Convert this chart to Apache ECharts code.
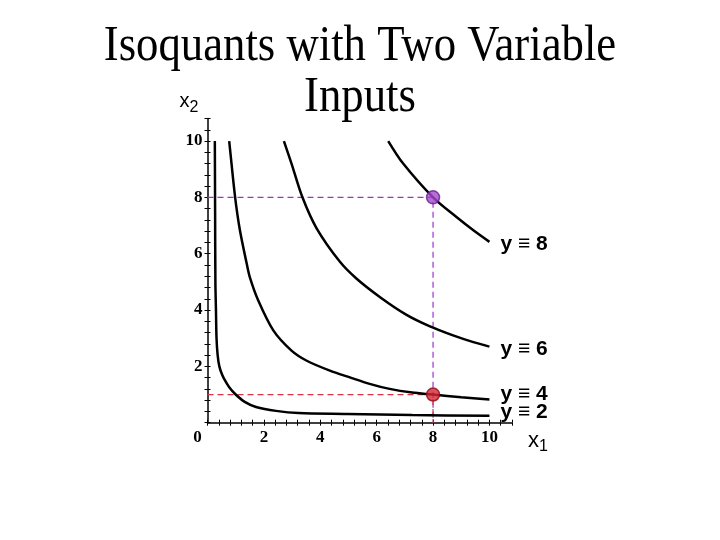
<!DOCTYPE html>
<html>
<head>
<meta charset="utf-8">
<script src="https://cdn.jsdelivr.net/npm/echarts@6/dist/echarts.min.js"></script>
<style>html,body{margin:0;padding:0;background:#fff}#c{width:720px;height:540px}</style>
</head>
<body>
<div id="c"></div>
<script>
// ---- data ----
const titleLines = ['Isoquants with Two Variable', 'Inputs'];
const xTicks = [0, 2, 4, 6, 8, 10];
const yTicks = [0, 2, 4, 6, 8, 10];

const y2X = [0.26, 0.27, 0.28, 0.30, 0.32, 0.36, 0.42, 0.52, 0.62, 0.77, 1.0, 1.32, 1.72, 2.43, 3.23, 4.95, 7.26, 10];
const y2Y = [10, 7.5, 5, 4, 3, 2.4, 2.0, 1.7, 1.5, 1.26, 1.0, 0.74, 0.56, 0.42, 0.34, 0.31, 0.27, 0.25];

const y4X = [0.77, 0.80, 0.98, 1.15, 1.39, 1.50, 1.80, 2.34, 2.98, 3.52, 4.34, 5.05, 5.75, 6.46, 7.26, 8, 9, 10];
const y4Y = [10, 9.7, 8, 6.83, 5.65, 5.17, 4.34, 3.27, 2.56, 2.2, 1.85, 1.61, 1.38, 1.2, 1.07, 1.0, 0.9, 0.82];

const y6X = [2.71, 2.98, 3.36, 3.87, 4.69, 5.29, 6.17, 7.06, 7.89, 8.71, 9.43, 10];
const y6Y = [10, 9.2, 8.02, 6.9, 5.72, 5.11, 4.42, 3.83, 3.42, 3.1, 2.86, 2.7];

const y8X = [6.41, 6.94, 8, 8.83, 9.43, 10];
const y8Y = [10, 9.2, 8, 7.3, 6.83, 6.42];

const curveLabels = ['y \u2261 2', 'y \u2261 4', 'y \u2261 6', 'y \u2261 8'];
const pointA = [8, 8];   // on y = 8
const pointB = [8, 1];   // on y = 4
const xName = 'x';
const xSub = '1';
const yName = 'x';
const ySub = '2';

// ---- build ----
const zip = (xs, ys) => xs.map((v, i) => [v, ys[i]]);
const chart = echarts.init(document.getElementById('c'), null, {renderer: 'canvas'});

const AX_MAX = 10.8;
const labelFont = 'Liberation Serif';
const sans = 'Liberation Sans, DejaVu Sans, Arial, sans-serif';

function tickAxis(inside, extra) {
  return Object.assign({
    type: 'value', min: 0, max: AX_MAX, interval: 0.4,
    axisLine: {show: false, onZero: false},
    axisTick: {show: true, inside: inside, length: 3, lineStyle: {color: '#000', width: 1}},
    axisLabel: {show: false},
    splitLine: {show: false}
  }, extra);
}

function curve(xs, ys, label, dy) {
  return {
    type: 'line', data: zip(xs, ys), symbol: 'none', smooth: 0.3,
    lineStyle: {color: '#000', width: 2.5},
    endLabel: {
      show: true, formatter: label, distance: 11, offset: [0, dy],
      fontFamily: sans, fontSize: 21, fontWeight: 'bold', color: '#000',
      align: 'left', verticalAlign: 'middle'
    },
    z: 3
  };
}

const option = {
  animation: false,
  grid: {left: 207.5, right: 208, top: 118.5, bottom: 117.3, containLabel: false},
  xAxis: [
    {
      type: 'value', min: 0, max: AX_MAX, interval: 2, position: 'bottom',
      axisLine: {show: true, onZero: false, lineStyle: {color: '#000', width: 1.5}},
      axisTick: {show: false},
      splitLine: {show: false},
      axisLabel: {
        margin: 6, showMaxLabel: false,
        fontFamily: labelFont, fontWeight: 'bold', fontSize: 17, color: '#000',
        formatter: v => (xTicks.indexOf(v) === 0 ? '{z|' + v + '}' : (xTicks.indexOf(v) >= 0 ? String(v) : '')),
        rich: {z: {fontFamily: labelFont, fontWeight: 'bold', fontSize: 17, color: '#000', padding: [0, 20, 0, 0]}}
      },
      name: xName + '{s|' + xSub + '}',
      nameLocation: 'end', nameGap: 16,
      nameTextStyle: {
        fontFamily: sans, fontSize: 22, color: '#000', verticalAlign: 'top', padding: [4, 0, 0, 0],
        rich: {s: {fontFamily: sans, fontSize: 16, color: '#000', padding: [12, 0, 0, 0]}}
      }
    },
    tickAxis(false, {position: 'bottom'}),
    tickAxis(true, {position: 'bottom'})
  ],
  yAxis: [
    {
      type: 'value', min: 0, max: AX_MAX, interval: 2, position: 'left',
      axisLine: {show: true, onZero: false, lineStyle: {color: '#000', width: 1.5}},
      axisTick: {show: false},
      splitLine: {show: false},
      axisLabel: {
        margin: 5, showMinLabel: false, showMaxLabel: false,
        fontFamily: labelFont, fontWeight: 'bold', fontSize: 17, color: '#000',
        formatter: v => (yTicks.indexOf(v) >= 0 ? String(v) : '')
      },
      name: yName + '{s|' + ySub + '}',
      nameLocation: 'end', nameGap: 3,
      nameTextStyle: {
        fontFamily: sans, fontSize: 20, color: '#000', align: 'right', padding: [0, 9, 0, 0],
        rich: {s: {fontFamily: sans, fontSize: 16, color: '#000', padding: [12, 0, 0, 0]}}
      }
    },
    tickAxis(false, {position: 'left'}),
    tickAxis(true, {position: 'left'})
  ],
  graphic: [
    {
      type: 'text', left: 'center', top: 21, scaleX: 0.877,
      style: {text: titleLines[0], fontFamily: 'Liberation Serif', fontSize: 51, fill: '#000'}
    },
    {
      type: 'text', left: 'center', top: 72, scaleX: 0.877,
      style: {text: titleLines[1], fontFamily: 'Liberation Serif', fontSize: 51, fill: '#000'}
    }
  ],
  series: [
    {
      type: 'line', data: [[0, pointA[1]], pointA, [pointA[0], 0]], symbol: 'none',
      lineStyle: {color: '#a030d0', width: 1.2, type: [6, 4]}, z: 1
    },
    {
      type: 'line', data: [[0, pointB[1]], pointB, [pointB[0], 0]], symbol: 'none',
      lineStyle: {color: '#dc3446', width: 1.2, type: [6, 4]}, z: 1
    },
    curve(y2X, y2Y, curveLabels[0], -3),
    curve(y4X, y4Y, curveLabels[1], -5.5),
    curve(y6X, y6Y, curveLabels[2], 2.5),
    curve(y8X, y8Y, curveLabels[3], 2),
    {
      type: 'scatter', data: [pointA], symbol: 'circle', symbolSize: 13,
      itemStyle: {color: '#a448cc', borderColor: '#6a1f90', borderWidth: 1.5}, z: 5
    },
    {
      type: 'scatter', data: [pointB], symbol: 'circle', symbolSize: 13,
      itemStyle: {color: '#d82434', borderColor: '#8a1018', borderWidth: 1.5}, z: 5
    }
  ]
};
chart.setOption(option);
</script>
</body>
</html>
